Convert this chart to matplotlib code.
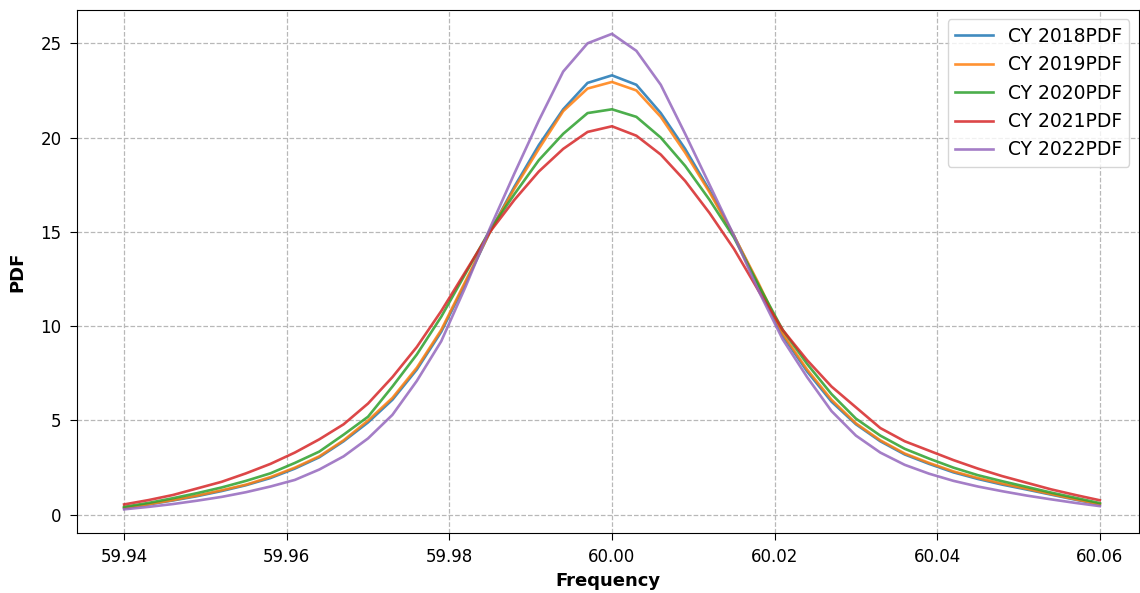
import numpy as np
import matplotlib
matplotlib.use("Agg")
import matplotlib.pyplot as plt

# frequency grid (Hz), 0.003 step
freq = np.round(np.arange(59.94, 60.0601, 0.003), 3)

# PDF values, left tail -> peak -> right tail
pdf_2018 = [0.36, 0.55, 0.76, 0.99, 1.26, 1.57, 1.95, 2.45, 3.05, 3.9, 4.9,
            6.1, 7.7, 9.7, 12.3, 15.0, 17.4, 19.6, 21.5, 22.9,
            23.3,
            22.8, 21.3, 19.4, 17.2, 14.8, 12.2, 9.5, 7.6, 6.0, 4.8,
            3.9, 3.2, 2.7, 2.25, 1.9, 1.6, 1.34, 1.07, 0.8, 0.55]
pdf_2019 = [0.37, 0.56, 0.78, 1.02, 1.3, 1.6, 2.0, 2.5, 3.1, 3.95, 5.0,
            6.2, 7.8, 9.8, 12.4, 15.0, 17.3, 19.4, 21.4, 22.6,
            22.95,
            22.5, 21.1, 19.2, 17.1, 14.8, 12.3, 9.6, 7.7, 6.1, 4.85,
            3.95, 3.25, 2.75, 2.3, 1.95, 1.65, 1.38, 1.1, 0.82, 0.56]
pdf_2020 = [0.42, 0.63, 0.88, 1.15, 1.45, 1.8, 2.2, 2.75, 3.35, 4.25, 5.2,
            6.8, 8.5, 10.5, 12.8, 15.1, 17.0, 18.8, 20.2, 21.3,
            21.5,
            21.1, 20.0, 18.5, 16.7, 14.7, 12.2, 9.8, 8.0, 6.4, 5.1,
            4.2, 3.5, 2.98, 2.5, 2.1, 1.78, 1.48, 1.18, 0.9, 0.62]
pdf_2021 = [0.55, 0.78, 1.05, 1.4, 1.75, 2.2, 2.7, 3.3, 4.0, 4.8, 5.9,
            7.3, 8.9, 10.8, 12.9, 15.0, 16.7, 18.2, 19.4, 20.3,
            20.6,
            20.1, 19.1, 17.7, 16.0, 14.1, 11.9, 9.8, 8.2, 6.8, 5.7,
            4.6, 3.9, 3.4, 2.9, 2.45, 2.05, 1.7, 1.35, 1.05, 0.77]
pdf_2022 = [0.29, 0.42, 0.57, 0.75, 0.95, 1.2, 1.5, 1.85, 2.4, 3.1, 4.05,
            5.3, 7.1, 9.2, 12.1, 15.2, 18.1, 20.9, 23.5, 25.0,
            25.5,
            24.6, 22.8, 20.2, 17.5, 14.8, 11.9, 9.3, 7.3, 5.5, 4.2,
            3.3, 2.65, 2.18, 1.8, 1.5, 1.25, 1.02, 0.82, 0.63, 0.46]

years = ["2018", "2019", "2020", "2021", "2022"]
series = [pdf_2018, pdf_2019, pdf_2020, pdf_2021, pdf_2022]

fig = plt.figure(figsize=(11.4, 5.93), dpi=100)
ax = fig.add_axes([0.0675, 0.101, 0.9315, 0.882])

for yr, vals in zip(years, series):
    ax.plot(freq, vals, linewidth=1.9, alpha=0.85, label="CY " + yr + "PDF")

ax.grid(True, linestyle="--", color="#b8b8b8", linewidth=0.9)
ax.set_xticks([59.94, 59.96, 59.98, 60.00, 60.02, 60.04, 60.06])
ax.set_xticklabels(["59.94", "59.96", "59.98", "60.00", "60.02", "60.04", "60.06"])
ax.set_xlim(59.9342, 60.0648)
ax.tick_params(labelsize=12, length=5, pad=6)
ax.set_xlabel("Frequency", fontsize=13, fontweight="bold", labelpad=4)
ax.set_ylabel("PDF", fontsize=13, fontweight="bold", labelpad=10)
ax.legend(loc="upper right", fontsize=13.5)

fig.savefig("out.png", dpi=100)
